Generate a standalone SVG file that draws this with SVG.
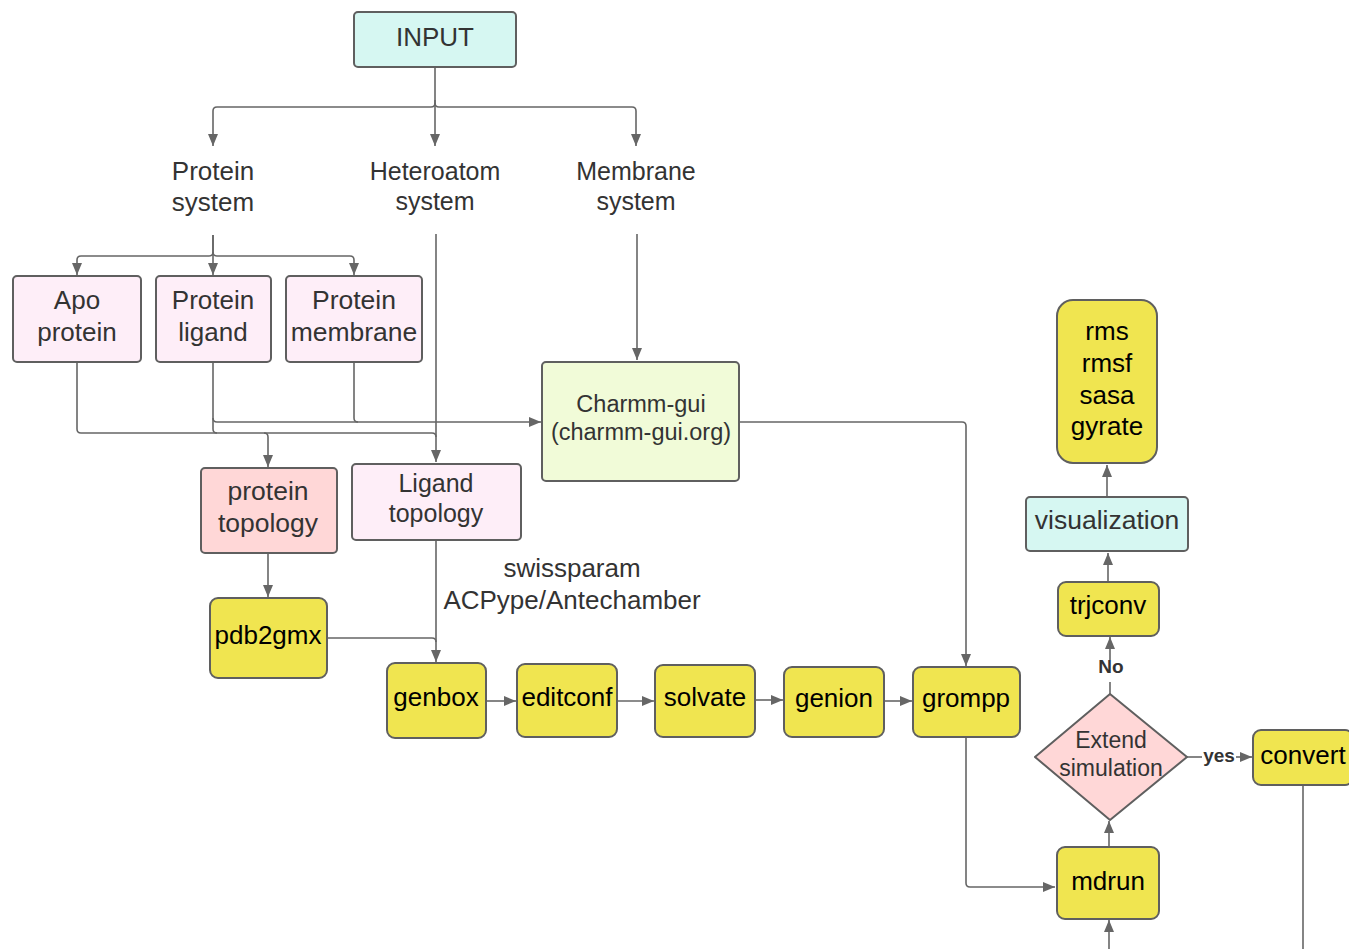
<svg xmlns="http://www.w3.org/2000/svg" width="1349" height="949" viewBox="0 0 1349 949">
<defs>
<marker id="ah" markerUnits="userSpaceOnUse" markerWidth="12" markerHeight="10" refX="12" refY="5" orient="auto">
<path d="M0,0 L12,5 L0,10 z" fill="#666"/>
</marker>
<style>
text{font-family:"Liberation Sans",Arial,sans-serif;text-anchor:middle}
.t{fill:#333;font-size:25px}
.k{fill:#000;font-size:26px}
.b{stroke:#5f5f5f;stroke-width:2}
.cy{fill:#d6f7f2}
.pk{fill:#feeef8}
.sal{fill:#ffd7d7}
.gr{fill:#f1fbd8}
.ye{fill:#f0e550}
.c path{fill:none;stroke:#666;stroke-width:1.6}
.a{marker-end:url(#ah)}
.lb{font-weight:bold;fill:#333;font-size:19px}
</style>
</defs>
<rect width="1349" height="949" fill="#fff"/>
<g class="c" id="connectors">
<path class="a" d="M435,68 V103 Q435,107 431,107 H217 Q213,107 213,111 V146"/>
<path class="a" d="M435,100 V146"/>
<path class="a" d="M435,103 Q435,107 439,107 H632 Q636,107 636,111 V146"/>
<path class="a" d="M213,235 V252 Q213,256 209,256 H81 Q77,256 77,260 V275"/>
<path class="a" d="M213,235 V275"/>
<path class="a" d="M213,252 Q213,256 217,256 H350 Q354,256 354,260 V275"/>
<path class="a" d="M436,234 V462"/>
<path class="a" d="M637,234 V360"/>
<path class="a" d="M77,362 V429 Q77,433 81,433 H264 Q268,433 268,437 V467"/>
<path d="M264,433 H432 Q436,433 436,437"/>
<path class="a" d="M213,362 V418 Q213,422 217,422 H541"/>
<path d="M213,418 V429 Q213,433 217,433"/>
<path d="M354,362 V418 Q354,422 358,422"/>
<path class="a" d="M268,553 V597"/>
<path class="a" d="M436,540 V662"/>
<path d="M327,638 H432 Q436,638 436,642"/>
<path class="a" d="M486,701 H516"/>
<path class="a" d="M617,701 H654"/>
<path class="a" d="M755,700 H783"/>
<path class="a" d="M884,701 H912"/>
<path class="a" d="M739,422 H962 Q966,422 966,426 V666"/>
<path class="a" d="M966,737 V883 Q966,887 970,887 H1055"/>
<path class="a" d="M1109,847 V821"/>
<path d="M1110,694 V682"/>
<path class="a" d="M1110,660 V637"/>
<path d="M1187,757 H1202"/>
<path class="a" d="M1236,757 H1252"/>
<path d="M1303,785 V949"/>
<path class="a" d="M1109,949 V920"/>
<path class="a" d="M1108,582 V553"/>
<path class="a" d="M1107,497 V465"/>
</g>
<text class="lb" x="1111" y="673">No</text>
<text class="lb" x="1219" y="762">yes</text>

<g id="input"><rect class="b cy" x="354" y="12" width="162" height="55" rx="4"/><text class="t" x="435" y="46" style="font-size:26px">INPUT</text></g>
<g id="protein-system"><text class="t" x="213" y="180" style="font-size:26px">Protein</text><text class="t" x="213" y="211" style="font-size:26px">system</text></g>
<g id="heteroatom-system"><text class="t" x="435" y="180">Heteroatom</text><text class="t" x="435" y="210">system</text></g>
<g id="membrane-system"><text class="t" x="636" y="180">Membrane</text><text class="t" x="636" y="210">system</text></g>

<g id="apo"><rect class="b pk" x="13" y="276" width="128" height="86" rx="4"/><text class="t" x="77" y="309" style="font-size:26px">Apo</text><text class="t" x="77" y="341" style="font-size:26px">protein</text></g>
<g id="protein-ligand"><rect class="b pk" x="156" y="276" width="115" height="86" rx="4"/><text class="t" x="213" y="309" style="font-size:26px">Protein</text><text class="t" x="213" y="341" style="font-size:26px">ligand</text></g>
<g id="protein-membrane"><rect class="b pk" x="286" y="276" width="136" height="86" rx="4"/><text class="t" x="354" y="309" style="font-size:26.5px">Protein</text><text class="t" x="354" y="341" style="font-size:26.5px">membrane</text></g>

<g id="charmm"><rect class="b gr" x="542" y="362" width="197" height="119" rx="4"/><text class="t" x="641" y="412" style="font-size:23.5px">Charmm-gui</text><text class="t" x="641" y="440" style="font-size:23.5px">(charmm-gui.org)</text></g>

<g id="protein-topology"><rect class="b sal" x="201" y="468" width="136" height="85" rx="4"/><text class="t" x="268" y="500" style="font-size:26.5px">protein</text><text class="t" x="268" y="532" style="font-size:26.5px">topology</text></g>
<g id="ligand-topology"><rect class="b pk" x="352" y="464" width="169" height="76" rx="4"/><text class="t" x="436" y="492">Ligand</text><text class="t" x="436" y="522">topology</text></g>

<g id="tools-note"><text class="t" x="572" y="577" style="font-size:26px">swissparam</text><text class="t" x="572" y="609" style="font-size:26px">ACPype/Antechamber</text></g>

<g id="pdb2gmx"><rect class="b ye" x="210" y="598" width="117" height="80" rx="8"/><text class="k" x="268" y="644">pdb2gmx</text></g>
<g id="genbox"><rect class="b ye" x="387" y="663" width="99" height="75" rx="8"/><text class="k" x="436" y="706">genbox</text></g>
<g id="editconf"><rect class="b ye" x="517" y="664" width="100" height="73" rx="8"/><text class="k" x="567" y="706">editconf</text></g>
<g id="solvate"><rect class="b ye" x="655" y="665" width="100" height="72" rx="8"/><text class="k" x="705" y="706">solvate</text></g>
<g id="genion"><rect class="b ye" x="784" y="667" width="100" height="70" rx="8"/><text class="k" x="834" y="707">genion</text></g>
<g id="grompp"><rect class="b ye" x="913" y="667" width="107" height="70" rx="8"/><text class="k" x="966" y="707">grompp</text></g>

<g id="mdrun"><rect class="b ye" x="1057" y="847" width="102" height="72" rx="8"/><text class="k" x="1108" y="890">mdrun</text></g>
<g id="extend"><path class="b" fill="#ffd7d7" d="M1110,694 L1187,757 L1110,820 L1035,757 Z" stroke-linejoin="round"/><text class="t" x="1111" y="748" style="font-size:23px">Extend</text><text class="t" x="1111" y="776" style="font-size:23px">simulation</text></g>
<g id="convert"><rect class="b ye" x="1253" y="730" width="100" height="55" rx="8"/><text class="k" x="1303" y="764">convert</text></g>
<g id="trjconv"><rect class="b ye" x="1058" y="582" width="101" height="54" rx="8"/><text class="k" x="1108" y="614">trjconv</text></g>
<g id="visualization"><rect class="b cy" x="1026" y="497" width="162" height="54" rx="4"/><text class="t" x="1107" y="529" style="font-size:26.5px">visualization</text></g>
<g id="analysis"><rect class="b ye" x="1057" y="300" width="100" height="163" rx="16"/><text class="k" x="1107" y="340">rms</text><text class="k" x="1107" y="372">rmsf</text><text class="k" x="1107" y="404">sasa</text><text class="k" x="1107" y="435">gyrate</text></g>
</svg>
